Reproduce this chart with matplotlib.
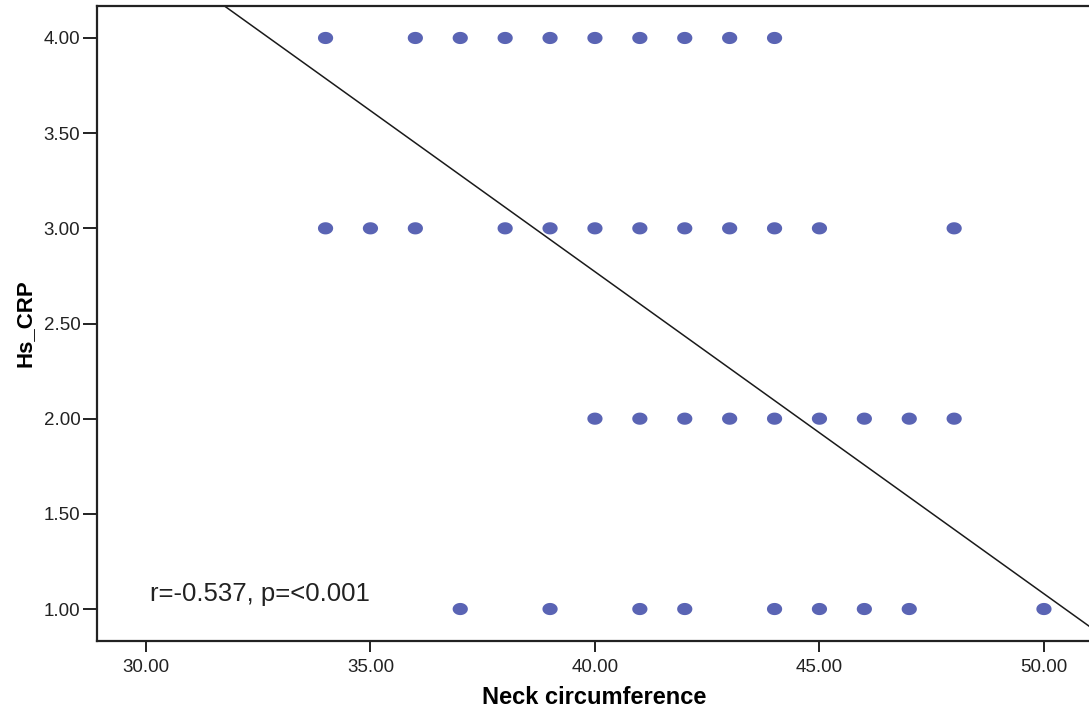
import numpy as np
import matplotlib
matplotlib.use("Agg")
import matplotlib.pyplot as plt
from matplotlib.path import Path

plt.rcParams['font.family'] = ['Liberation Sans', 'DejaVu Sans']

# Data
neck_y4 = [34, 36, 37, 38, 39, 40, 41, 42, 43, 44]
neck_y3 = [34, 35, 36, 38, 39, 40, 41, 42, 43, 44, 45, 48]
neck_y2 = [40, 41, 42, 43, 44, 45, 46, 47, 48]
neck_y1 = [37, 39, 41, 42, 44, 45, 46, 47, 50]
crp_levels = [4.0, 3.0, 2.0, 1.0]

fit_intercept = 9.54
fit_slope = -0.1692

xticks = [30, 35, 40, 45, 50]
yticks = [1.0, 1.5, 2.0, 2.5, 3.0, 3.5, 4.0]
annotation = "r=-0.537, p=<0.001"

W, H = 1089, 713
fig = plt.figure(figsize=(W / 100, H / 100), dpi=100)
ax = fig.add_axes([97 / W, (H - 641) / H, (1092 - 97) / W, (641 - 6) / H])

xs = []
ys = []
for lvl, grp in zip(crp_levels, [neck_y4, neck_y3, neck_y2, neck_y1]):
    xs += grp
    ys += [lvl] * len(grp)

t = np.linspace(0, 2 * np.pi, 60)
ell = Path(np.column_stack([np.cos(t), 0.8 * np.sin(t)]))
ax.scatter(xs, ys, marker=ell, s=120, color='#5a64b4', edgecolors='none', zorder=3)

xl = (28.91, 51.07)
xx = np.array(xl)
ax.plot(xx, fit_intercept + fit_slope * xx, color='#1a1a1a', lw=1.1, zorder=2)

ax.set_xlim(*xl)
ax.set_ylim(0.832, 4.168)
ax.set_xticks(xticks)
ax.set_xticklabels([f"{v:.2f}" for v in xticks])
ax.set_yticks(yticks)
ax.set_yticklabels([f"{v:.2f}" for v in yticks])

for s in ['left', 'bottom', 'top']:
    ax.spines[s].set_linewidth(1.6)
    ax.spines[s].set_color('#222222')
ax.spines['right'].set_visible(False)

ax.tick_params(axis='y', length=10, width=1.4, labelsize=13.5, pad=2, colors='#222222')
ax.tick_params(axis='x', length=8, width=1.4, labelsize=13.5, pad=5, colors='#222222')

ax.set_xlabel("Neck circumference", fontsize=17, fontweight='bold', labelpad=7)
ax.set_ylabel("Hs_CRP", fontsize=16, fontweight='bold', labelpad=6)

ax.text(30.09, 1.04, annotation, fontsize=18.5, va='baseline', ha='left', color='#222222')

fig.savefig("out.png", dpi=100)
